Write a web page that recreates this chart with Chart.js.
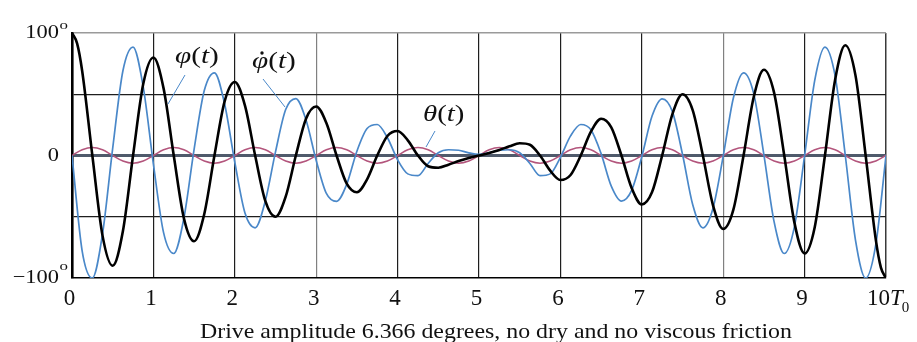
<!DOCTYPE html>
<html><head><meta charset="utf-8">
<script src="https://cdn.jsdelivr.net/npm/chart.js@4/dist/chart.umd.min.js"></script>
<style>html,body{margin:0;padding:0;background:#fff;}canvas{display:block;}</style>
</head><body>
<canvas id="c" width="917" height="342"></canvas>
<script>
// time in units of T0
const tValues = [0,0.125,0.25,0.375,0.5,0.625,0.75,0.875,1,1.125,1.25,1.375,1.5,1.625,1.75,1.875,2,2.125,2.25,2.375,2.5,2.625,2.75,2.875,3,3.125,3.25,3.375,3.5,3.625,3.75,3.875,4,4.125,4.25,4.375,4.5,4.625,4.75,4.875,5,5.125,5.25,5.375,5.5,5.625,5.75,5.875,6,6.125,6.25,6.375,6.5,6.625,6.75,6.875,7,7.125,7.25,7.375,7.5,7.625,7.75,7.875,8,8.125,8.25,8.375,8.5,8.625,8.75,8.875,9,9.125,9.25,9.375,9.5,9.625,9.75,9.875,10];
// phi(t) has two extra samples near the ends (peaks at t = 0 and t = 10)
const phiTimes = [0,0.0625,0.125,0.25,0.375,0.5,0.625,0.75,0.875,1,1.125,1.25,1.375,1.5,1.625,1.75,1.875,2,2.125,2.25,2.375,2.5,2.625,2.75,2.875,3,3.125,3.25,3.375,3.5,3.625,3.75,3.875,4,4.125,4.25,4.375,4.5,4.625,4.75,4.875,5,5.125,5.25,5.375,5.5,5.625,5.75,5.875,6,6.125,6.25,6.375,6.5,6.625,6.75,6.875,7,7.125,7.25,7.375,7.5,7.625,7.75,7.875,8,8.125,8.25,8.375,8.5,8.625,8.75,8.875,9,9.125,9.25,9.375,9.5,9.625,9.75,9.875,9.9375,10];
// phi(t), degrees (black)
const phiValues = [100,91.5,69,0,-65.4,-90,-61.9,0,58.3,80,54.8,0,-51.3,-70,-47.7,0,44.2,60,40.7,0,-37.1,-50,-33.6,0,30.1,40,26.5,0,-23,-30,-19.4,0,15.9,20,12.4,0,-8.8,-10,-7.5,-4.5,-2,0,2,4.5,7.5,10,8.8,0,-12.4,-20,-15.9,0,19.4,30,23,0,-26.5,-40,-30.1,0,33.6,50,37.1,0,-40.7,-60,-44.2,0,47.7,70,51.3,0,-54.8,-80,-58.3,0,61.9,90,65.4,0,-68.9,-91.5,-100];
// phi-dot(t), scaled (blue)
const phiDotValues = [0,-78,-100,-64,6,69,88.5,56,-7,-63,-80,-51,5,53,67.5,42,-5.5,-47,-59,-37,3,37.5,46.5,29,-4,-31,-37.5,-23.5,3.5,22,25.3,14.5,-3.5,-15,-16.5,-6.5,2.2,4.7,4.3,2.2,1,2.2,4.3,4.7,2.2,-6.5,-16.5,-15,-1.5,16,25.3,21,1.5,-25,-37.2,-28.5,-1,32,46.3,36,1,-40,-59,-43,-0.5,47,67.5,50.5,0.5,-54,-80,-58,0,61.5,88.5,65,0,-69,-100,-72.5,0];
// theta(t), drive angle (purple)
const thetaValues = [0,4.7,6.6,4.7,0,-4.5,-6.3,-4.5,0,4.7,6.6,4.7,0,-4.5,-6.3,-4.5,0,4.7,6.6,4.7,0,-4.5,-6.3,-4.5,0,4.7,6.6,4.7,0,-4.5,-6.3,-4.5,0,4.7,6.6,4.7,0,-4.5,-6.3,-4.5,0,4.7,6.6,4.7,0,-4.5,-6.3,-4.5,0,4.7,6.6,4.7,0,-4.5,-6.3,-4.5,0,4.7,6.6,4.7,0,-4.5,-6.3,-4.5,0,4.7,6.6,4.7,0,-4.5,-6.3,-4.5,0,4.7,6.6,4.7,0,-4.5,-6.3,-4.5,0];

const xTickLabels = ['0','1','2','3','4','5','6','7','8','9','10'];
const yTickValues = [100, 0, -100];
const yTickTexts = ['100', '0', '\u2212100'];
const yTickDegree = [true, false, true];
const caption = 'Drive amplitude 6.366 degrees, no dry and no viscous friction';

const SERIF = '"Liberation Serif", "Times New Roman", serif';
const BLUE = '#4a88c9';
const toXY = (times, vals) => vals.map((v, i) => ({x: times[i], y: v}));

function textS(ctx, txt, x, y, font, sx, align) {
  ctx.save();
  ctx.font = font;
  ctx.textAlign = align || 'left';
  ctx.translate(x, y);
  ctx.scale(sx, 1);
  ctx.fillText(txt, 0, 0);
  const w = ctx.measureText(txt).width * sx;
  ctx.restore();
  return w;
}

function drawMath(ctx, parts, x, y, size, sx) {
  let cx = x;
  parts.forEach(([txt, italic]) => {
    cx += textS(ctx, txt, cx, y, (italic ? 'italic ' : '') + size + 'px ' + SERIF, sx, 'left');
  });
  return cx;
}

const labelPlugin = {
  id: 'labels',
  afterDraw(chart) {
    const ctx = chart.ctx, xs = chart.scales.x, ys = chart.scales.y;
    ctx.save();
    ctx.fillStyle = '#111';
    ctx.textBaseline = 'alphabetic';
    // y tick labels
    yTickValues.forEach((v, i) => {
      const py = ys.getPixelForValue(v);
      textS(ctx, yTickTexts[i], 59, py + 5, '19px ' + SERIF, 1.18, 'right');
      if (yTickDegree[i]) {
        textS(ctx, 'o', 59.5, v > 0 ? py - 4.5 : py - 8, '13px ' + SERIF, 1.3, 'left');
      }
    });
    // x tick labels
    xTickLabels.forEach((lab, i) => {
      const px = xs.getPixelForValue(i);
      if (i < xTickLabels.length - 1) {
        textS(ctx, lab, px - 2.5, 305, '23px ' + SERIF, 1, 'center');
      } else {
        textS(ctx, lab, px + 4, 305, '23px ' + SERIF, 1, 'right');
        const w = textS(ctx, 'T', px + 4, 305, 'italic 23px ' + SERIF, 1, 'left');
        textS(ctx, '0', px + 3 + w, 312, '15px ' + SERIF, 1, 'left');
      }
    });
    // caption
    textS(ctx, caption, 496, 338, '22px ' + SERIF, 1.085, 'center');
    // series annotations
    drawMath(ctx, [['\u03c6', true], ['(', false], ['t', true], [')', false]], 175, 63, 24, 1.22);
    drawMath(ctx, [['\u03c6', true], ['(', false], ['t', true], [')', false]], 252, 68, 24, 1.22);
    ctx.beginPath();
    ctx.arc(262, 53, 1.7, 0, Math.PI * 2);
    ctx.fill();
    drawMath(ctx, [['\u03b8', true], ['(', false], ['t', true], [')', false]], 423, 121, 24, 1.2);
    // leader lines
    ctx.strokeStyle = BLUE;
    ctx.lineWidth = 1;
    [[185, 75, 168, 104], [263, 79, 285, 107], [435, 131, 426, 147]].forEach(([a, b, c, d]) => {
      ctx.beginPath(); ctx.moveTo(a, b); ctx.lineTo(c, d); ctx.stroke();
    });
    ctx.restore();
  }
};

new Chart(document.getElementById('c'), {
  type: 'line',
  data: {
    datasets: [
      {label: '\u03c6(t)', data: toXY(phiTimes, phiValues), borderColor: '#000', borderWidth: 2.6},
      {label: '\u03c6\u0307(t)', data: toXY(tValues, phiDotValues), borderColor: BLUE, borderWidth: 1.7},
      {label: '\u03b8(t)', data: toXY(tValues, thetaValues), borderColor: '#b3557c', borderWidth: 1.5}
    ]
  },
  options: {
    responsive: false,
    animation: false,
    events: [],
    layout: {padding: {left: 72, right: 31, top: 33, bottom: 64}},
    plugins: {legend: {display: false}, tooltip: {enabled: false}, title: {display: false}},
    elements: {
      point: {radius: 0},
      line: {cubicInterpolationMode: 'monotone', fill: false}
    },
    scales: {
      x: {
        type: 'linear', min: 0, max: 10,
        ticks: {display: false, stepSize: 1},
        grid: {
          drawTicks: false,
          color: c => c.tick.value === 0 ? 'rgba(0,0,0,0)' : (c.tick.value === 3 || c.tick.value === 8 ? '#808080' : (c.tick.value === 10 ? '#3a3a3a' : '#1e1e1e')),
          lineWidth: c => c.tick.value === 10 ? 1.5 : 1.2
        },
        border: {display: true, color: '#000', width: 1.6}
      },
      y: {
        type: 'linear', min: -100, max: 100,
        ticks: {display: false, stepSize: 50},
        grid: {
          drawTicks: false,
          color: c => c.tick.value === 0 ? '#4f5a6b' : (c.tick.value === 100 ? '#9a9a9a' : (c.tick.value === -100 ? 'rgba(0,0,0,0)' : '#1e1e1e')),
          lineWidth: c => c.tick.value === 0 ? 3 : (c.tick.value === 100 ? 1.5 : 1.2)
        },
        border: {display: true, color: '#000', width: 2.6}
      }
    }
  },
  plugins: [labelPlugin]
});
</script>
</body></html>
